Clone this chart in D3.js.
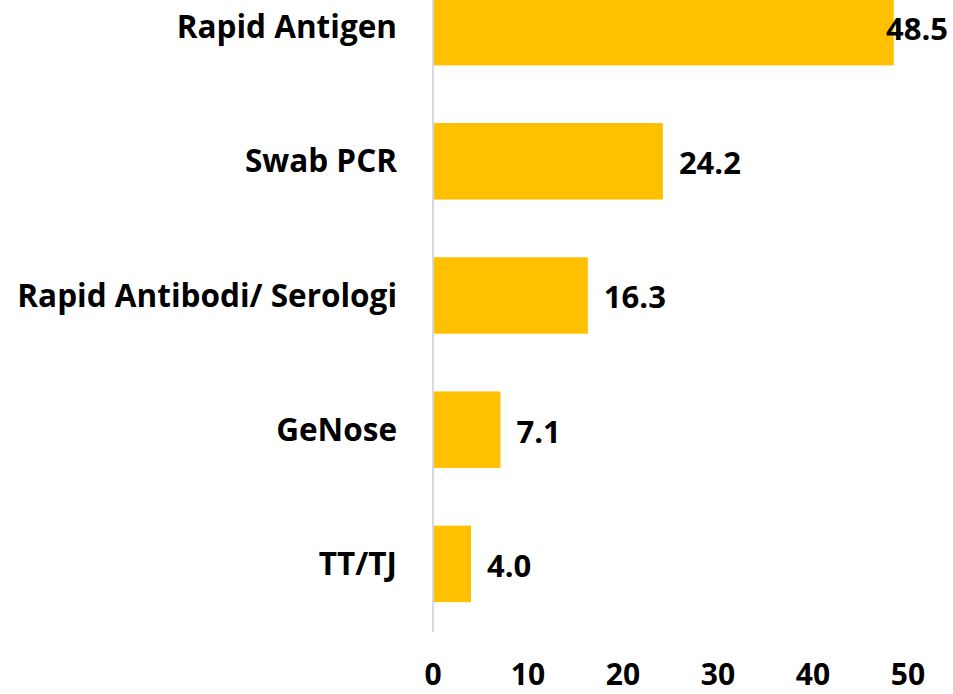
<!DOCTYPE html>
<html>
<head>
<meta charset="utf-8">
<script src="https://cdn.jsdelivr.net/npm/d3@7"></script>
<style>
  body { margin: 0; background: #fff; }
  svg { display: block; }
  text { font-family: "Open Sans", "Noto Sans", sans-serif; font-weight: bold; fill: #000; }
</style>
</head>
<body>
<svg width="953" height="694"></svg>
<script>
// data
var categories = ["Rapid Antigen", "Swab PCR", "Rapid Antibodi/ Serologi", "GeNose", "TT/TJ"];
var values = [48.5, 24.2, 16.3, 7.1, 4.0];
var tickValues = [0, 10, 20, 30, 40, 50];

var svg = d3.select("svg"),
    W = +svg.attr("width");

var xScale = d3.scaleLinear().domain([0, 50]).range([433, 908]);
var yScale = d3.scaleBand().domain(categories).range([-40, 631])
    .paddingInner(0.43).paddingOuter(0.215);

// axis line
svg.append("line")
   .attr("x1", xScale(0)).attr("x2", xScale(0))
   .attr("y1", 0).attr("y2", 632)
   .attr("stroke", "#d9d9d9").attr("stroke-width", 2);

var data = categories.map(function(c, i) { return { cat: c, value: values[i] }; });

svg.selectAll(".bar")
   .data(data)
   .enter().append("rect")
   .attr("class", "bar")
   .attr("x", xScale(0) + 1)
   .attr("y", function(d) { return yScale(d.cat); })
   .attr("width", function(d) { return xScale(d.value) - xScale(0) - 1; })
   .attr("height", yScale.bandwidth())
   .attr("fill", "#ffc000");

// category labels
svg.selectAll(".cat")
   .data(data)
   .enter().append("text")
   .attr("class", "cat")
   .attr("x", 397)
   .attr("y", function(d) { return yScale(d.cat) + yScale.bandwidth() / 2; })
   .attr("dy", "0.35em")
   .attr("text-anchor", "end")
   .attr("font-size", "31.5px")
   .text(function(d) { return d.cat; });

// value labels
svg.selectAll(".val")
   .data(data)
   .enter().append("text")
   .attr("class", "val")
   .attr("y", function(d) { return yScale(d.cat) + yScale.bandwidth() / 2 + 2; })
   .attr("dy", "0.35em")
   .attr("font-size", "31px")
   .text(function(d) { return d.value.toFixed(1); })
   .each(function(d) {
       var t = d3.select(this);
       var w = this.getComputedTextLength();
       var x = xScale(d.value) + 16;
       if (x + w > W - 4) {
           t.attr("x", W - 5).attr("text-anchor", "end");
       } else {
           t.attr("x", x);
       }
   });

// x tick labels
svg.selectAll(".tick")
   .data(tickValues)
   .enter().append("text")
   .attr("class", "tick")
   .attr("x", function(d) { return xScale(d); })
   .attr("y", 685)
   .attr("text-anchor", "middle")
   .attr("font-size", "30px")
   .text(function(d) { return d; });
</script>
</body>
</html>
